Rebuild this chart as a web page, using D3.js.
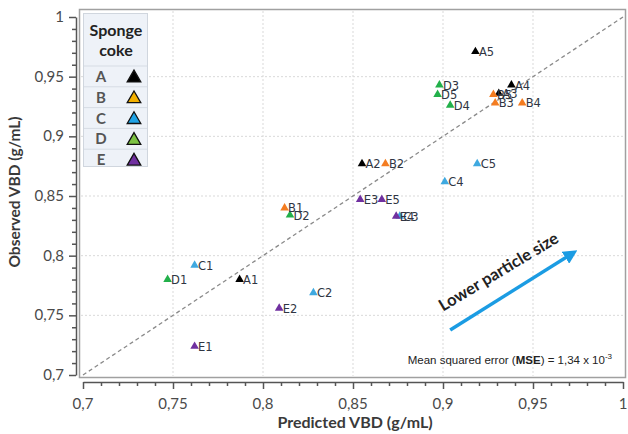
<!DOCTYPE html>
<html><head><meta charset="utf-8">
<script src="https://cdn.jsdelivr.net/npm/d3@7"></script>
<style>body{margin:0;background:#fff}svg{display:block}</style>
</head><body>
<svg id="c" width="628" height="434"></svg>
<script>
// ---- data ----
const seriesNames = ["A","B","C","D","E"];
const pointColors = ["#000000","#f47c20","#3fa9e0","#22b04a","#7030a0"];
const legendColors = ["#000000","#f3b000","#1fa3e6","#7cc242","#7030a0"];
const predA = [0.787, 0.855, 0.931, 0.938, 0.918];
const obsA  = [0.780, 0.877, 0.936, 0.943, 0.971];
const predB = [0.812, 0.868, 0.929, 0.944, 0.928];
const obsB  = [0.840, 0.877, 0.928, 0.928, 0.935];
const predC = [0.762, 0.828, 0.876, 0.901, 0.919];
const obsC  = [0.792, 0.769, 0.833, 0.862, 0.877];
const predD = [0.747, 0.815, 0.898, 0.904, 0.897];
const obsD  = [0.780, 0.834, 0.943, 0.926, 0.935];
const predE = [0.762, 0.809, 0.854, 0.874, 0.866];
const obsE  = [0.724, 0.756, 0.847, 0.833, 0.847];
const xTickValues = [0.7,0.75,0.8,0.85,0.9,0.95,1];
const xTickLabels = ["0,7","0,75","0,8","0,85","0,9","0,95","1"];
const yTickValues = [0.7,0.75,0.8,0.85,0.9,0.95,1];
const yTickLabels = ["0,7","0,75","0,8","0,85","0,9","0,95","1"];
const arrowFrom = [0.904, 0.7377];
const arrowTo = [0.972, 0.802];
const arrowLabelAt = [0.9325, 0.7825];

const preds = [predA,predB,predC,predD,predE];
const obss = [obsA,obsB,obsC,obsD,obsE];
const points = [];
seriesNames.forEach((s,i)=>preds[i].forEach((p,j)=>points.push({s:i,label:s+(j+1),x:p,y:obss[i][j]})));

const svg = d3.select("#c");
const x = d3.scaleLinear([0.7,1],[83,623]);
const y = d3.scaleLinear([0.7,1],[375,17]);

// frame
svg.append("rect").attr("x",79.5).attr("y",9.5).attr("width",546).attr("height",368)
  .attr("fill","#fff").attr("stroke","#a0a0a0").attr("stroke-width",1.5);

// grid
const g = svg.append("g");
g.selectAll(".vg").data(xTickValues.slice(1,-1)).join("line")
  .attr("x1",d=>x(d)).attr("x2",d=>x(d)).attr("y1",11).attr("y2",376)
  .attr("stroke","#d9d9d9").attr("stroke-dasharray","2,2");
g.selectAll(".hg").data(yTickValues.slice(1,-1)).join("line")
  .attr("y1",d=>y(d)).attr("y2",d=>y(d)).attr("x1",81).attr("x2",624)
  .attr("stroke","#d9d9d9").attr("stroke-dasharray","2,2");

// diagonal
svg.append("line").attr("x1",x(0.7)).attr("y1",y(0.7)).attr("x2",x(1)).attr("y2",y(1))
  .attr("stroke","#8a8a8a").attr("stroke-width",1.3).attr("stroke-dasharray","4,3");

// axes
const tickFont = "Lato, 'Open Sans', sans-serif";
const xAxis = svg.append("g").attr("transform","translate(0,382)")
  .call(d3.axisBottom(x).tickValues(d3.range(0.7,1.0001,0.01)).tickSizeInner(4).tickSizeOuter(0).tickFormat(""));
xAxis.selectAll(".tick line").filter(d=>xTickValues.some(v=>Math.abs(v-d)<1e-6)).attr("y2",7);
xAxis.selectAll("line,path").attr("stroke","#555").attr("stroke-width",1.5);
svg.append("g").selectAll("text").data(xTickValues).join("text")
  .attr("x",d=>x(d)).attr("y",409).attr("text-anchor","middle")
  .attr("font-family",tickFont).attr("font-size",15).attr("fill","#4a4a4a")
  .text((d,i)=>xTickLabels[i]);

const yAxis = svg.append("g").attr("transform","translate(76,0)")
  .call(d3.axisLeft(y).tickValues(d3.range(0.7,1.0001,0.01)).tickSizeInner(4).tickSizeOuter(0).tickFormat(""));
yAxis.selectAll(".tick line").filter(d=>yTickValues.some(v=>Math.abs(v-d)<1e-6)).attr("x2",-7);
yAxis.selectAll("line,path").attr("stroke","#555").attr("stroke-width",1.5);
svg.append("g").selectAll("text").data(yTickValues).join("text")
  .attr("x",64).attr("y",d=>y(d)+5).attr("text-anchor","end")
  .attr("font-family",tickFont).attr("font-size",15).attr("fill","#4a4a4a")
  .text((d,i)=>yTickLabels[i]);

// axis titles
svg.append("text").attr("x",355).attr("y",428).attr("text-anchor","middle")
  .attr("font-family",tickFont).attr("font-weight","bold").attr("font-size",16).attr("fill","#3a3a3a")
  .text("Predicted VBD (g/mL)");
svg.append("text").attr("transform","translate(20,192) rotate(-90)").attr("text-anchor","middle")
  .attr("font-family",tickFont).attr("font-weight","bold").attr("font-size",15.5).attr("fill","#3a3a3a")
  .text("Observed VBD (g/mL)");

// points
const tri = d3.symbol().type(d3.symbolTriangle).size(32);
const pg = svg.append("g");
pg.selectAll("path").data(points).join("path")
  .attr("transform",d=>`translate(${x(d.x)},${y(d.y)})`).attr("d",tri)
  .attr("fill",d=>pointColors[d.s]);
pg.selectAll("text").data(points).join("text")
  .attr("x",d=>x(d.x)+3.5).attr("y",d=>y(d.y)+4.5)
  .attr("font-family","'DejaVu Sans', sans-serif").attr("font-size",11.5).attr("fill","#2f3542")
  .text(d=>d.label);

// legend
const lg = svg.append("g");
lg.append("rect").attr("x",83.5).attr("y",13.5).attr("width",64).attr("height",153)
  .attr("fill","#eef2f8").attr("stroke","#d0d6de");
lg.append("text").attr("x",116).attr("y",36).attr("text-anchor","middle")
  .attr("font-family",tickFont).attr("font-weight","bold").attr("font-size",16).attr("fill","#222").text("Sponge");
lg.append("text").attr("x",116).attr("y",56).attr("text-anchor","middle")
  .attr("font-family",tickFont).attr("font-weight","bold").attr("font-size",16).attr("fill","#222").text("coke");
const rowY = i=>77+i*20.8;
lg.selectAll(".sep").data(seriesNames).join("line")
  .attr("x1",84).attr("x2",147).attr("y1",(d,i)=>rowY(i)-11).attr("y2",(d,i)=>rowY(i)-11)
  .attr("stroke","#d6dce4");
lg.selectAll(".lt").data(seriesNames).join("text")
  .attr("x",101).attr("y",(d,i)=>rowY(i)+5).attr("text-anchor","middle")
  .attr("font-family",tickFont).attr("font-weight","bold").attr("font-size",15).attr("fill","#555").text(d=>d);
lg.selectAll(".ls").data(seriesNames).join("path")
  .attr("transform",(d,i)=>`translate(134,${rowY(i)+1})`)
  .attr("d",d3.symbol().type(d3.symbolTriangle).size(80))
  .attr("fill",(d,i)=>legendColors[i]).attr("stroke","#111").attr("stroke-width",1.3);

// arrow
const defs = svg.append("defs");
defs.append("marker").attr("id","ah").attr("viewBox","0 0 10 10").attr("refX",6).attr("refY",5)
  .attr("markerWidth",4).attr("markerHeight",4).attr("orient","auto")
  .append("path").attr("d","M0,0 L10,5 L0,10 z").attr("fill","#1b9ce3");
svg.append("line").attr("x1",x(arrowFrom[0])).attr("y1",y(arrowFrom[1]))
  .attr("x2",x(arrowTo[0])).attr("y2",y(arrowTo[1]))
  .attr("stroke","#1b9ce3").attr("stroke-width",3.5).attr("marker-end","url(#ah)");
svg.append("text").attr("transform",`translate(${x(arrowLabelAt[0])},${y(arrowLabelAt[1])}) rotate(-31)`)
  .attr("text-anchor","middle").attr("font-family",tickFont).attr("font-weight","bold")
  .attr("font-size",16.5).attr("fill","#222").text("Lower particle size");

// MSE text
const mt = svg.append("text").attr("x",612).attr("y",364).attr("text-anchor","end")
  .attr("font-family","'Liberation Sans', Arial, sans-serif").attr("font-size",11.5).attr("fill","#222");
mt.append("tspan").text("Mean squared error (");
mt.append("tspan").attr("font-weight","bold").text("MSE");
mt.append("tspan").text(") = 1,34 x 10");
mt.append("tspan").attr("dy",-5).attr("font-size",8).text("-3");
</script>
</body></html>
